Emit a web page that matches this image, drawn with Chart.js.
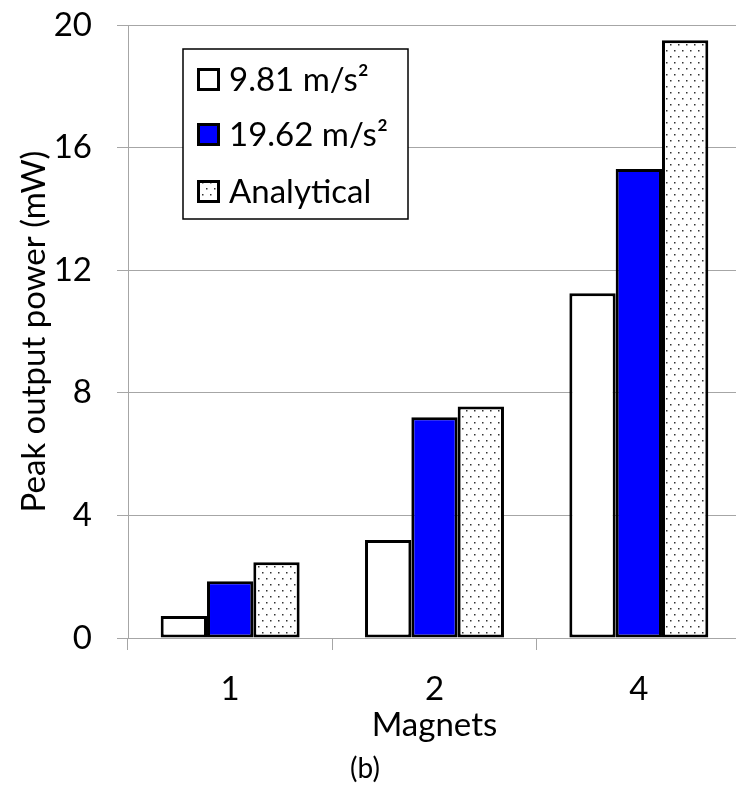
<!DOCTYPE html>
<html>
<head>
<meta charset="utf-8">
<script src="https://cdn.jsdelivr.net/npm/chart.js@4.4.1/dist/chart.umd.min.js"></script>
<style>
    html, body { margin: 0; padding: 0; overflow: hidden; background: #fff; }
    canvas { display: block; }
</style>
</head>
<body>
<canvas id="powerChart" width="745" height="785"></canvas>
<script>
const magnets = ["1", "2", "4"];
const seriesLabels = ["9.81 m/s²", "19.62 m/s²", "Analytical"];
const power981 = [0.72, 3.2, 11.25];
const power1962 = [1.85, 7.2, 15.3];
const powerAnalytical = [2.47, 7.55, 19.5];
const yTicks = [0, 4, 8, 12, 16, 20];

const FONT = "Lato, 'Open Sans', sans-serif";
const GRID = "#a6a6a6";

function makeDots() {
    const tile = document.createElement("canvas");
    tile.width = 8;
    tile.height = 12;
    const t = tile.getContext("2d");
    t.fillStyle = "#fff";
    t.fillRect(0, 0, 8, 12);
    t.fillStyle = "#333";
    t.fillRect(2, 2, 1.5, 1.5);
    t.fillRect(6, 8, 1.5, 1.5);
    return t.createPattern(tile, "repeat");
}

const dots = makeDots();
const fills = ["#ffffff", "#0000ff", dots];

// legend box drawn inside the plot, plus the "(b)" caption
const boxLegend = {
    id: "boxLegend",
    afterDraw(chart) {
        const ctx = chart.ctx;
        ctx.save();
        ctx.fillStyle = "#fff";
        ctx.fillRect(183, 49, 225, 170);
        ctx.lineWidth = 1.5;
        ctx.strokeStyle = "#000";
        ctx.strokeRect(183, 49, 225, 170);

        const rows = [79, 134, 191];
        chart.data.datasets.forEach((ds, i) => {
            ctx.fillStyle = ds.backgroundColor;
            ctx.fillRect(197, rows[i] - 11, 23, 23);
            ctx.lineWidth = 3;
            ctx.strokeStyle = "#000";
            ctx.strokeRect(198.5, rows[i] - 9.5, 20, 20);
            ctx.fillStyle = "#000";
            ctx.font = "33px " + FONT;
            ctx.textBaseline = "middle";
            ctx.textAlign = "left";
            ctx.fillText(ds.label, 229, rows[i] + 1);
        });

        ctx.font = "28px " + FONT;
        ctx.textAlign = "center";
        ctx.fillText("(b)", 365, 769);
        ctx.restore();
    },
};

const ctx = document.getElementById("powerChart").getContext("2d");
new Chart(ctx, {
    type: "bar",
    data: {
        labels: magnets,
        datasets: [
            { label: seriesLabels[0], data: power981 },
            { label: seriesLabels[1], data: power1962 },
            { label: seriesLabels[2], data: powerAnalytical },
        ].map((ds, i) => ({
            ...ds,
            backgroundColor: fills[i],
            borderColor: "#000",
            borderWidth: 3,
            borderSkipped: false,
            categoryPercentage: 0.68,
            barPercentage: 1.0,
        })),
    },
    options: {
        responsive: false,
        animation: false,
        layout: { padding: { top: 25, right: 4, left: 0, bottom: 0 } },
        plugins: {
            legend: { display: false },
            tooltip: { enabled: false },
        },
        scales: {
            x: {
                afterFit: (s) => {
                    s.height = 147;
                    s.paddingLeft = 0;
                    s.paddingRight = 0;
                },
                grid: {
                    offset: true,
                    drawOnChartArea: false,
                    drawTicks: true,
                    tickLength: 12,
                    color: GRID,
                },
                border: { color: GRID, width: 1 },
                ticks: {
                    color: "#000",
                    padding: 20,
                    font: { family: FONT, size: 33 },
                },
                title: {
                    display: true,
                    text: "Magnets",
                    color: "#000",
                    font: { family: FONT, size: 33 },
                    padding: { top: 0, bottom: 40 },
                },
            },
            y: {
                min: 0,
                max: 20,
                afterFit: (s) => {
                    s.width = 128;
                    s.paddingTop = 0;
                    s.paddingBottom = 0;
                },
                afterBuildTicks: (s) => { s.ticks = yTicks.map((v) => ({ value: v })); },
                grid: { color: GRID, tickLength: 11 },
                border: { color: GRID, width: 1 },
                ticks: {
                    color: "#000",
                    padding: 25,
                    font: { family: FONT, size: 33 },
                },
                title: {
                    display: true,
                    text: "Peak output power (mW)",
                    color: "#000",
                    font: { family: FONT, size: 33 },
                    padding: { top: 15, bottom: 0 },
                },
            },
        },
    },
    plugins: [boxLegend],
});
</script>
</body>
</html>
